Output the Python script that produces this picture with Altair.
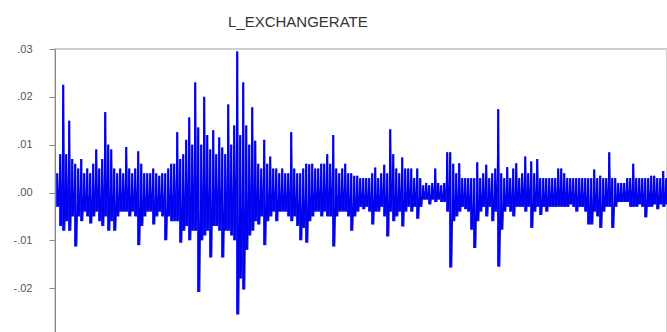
import altair as alt
import pandas as pd

# Daily log-change of the exchange rate, summarised per time slice as the
# highest and lowest value reached inside that slice (units of 0.001).
slice_high = [
    4, 8, 22.5, 8, 15, 7, 6, 5, 7, 4, 5, 4, 6, 9, 5, 7, 16.8, 10, 9, 5,
    4, 5, 4, 9.5, 5, 4, 5, 8.6, 6, 4, 4, 4, 5, 4, 3.5, 4, 4, 5, 6, 6,
    12.6, 7, 8, 11, 15.7, 10, 23, 13.6, 10, 20, 12, 9, 13, 8, 11.5, 9.4, 8, 18.4, 10, 14,
    29.5, 12, 23, 14, 10, 17.8, 10.8, 6, 5, 11, 6, 7.5, 5, 5, 4, 5, 4, 4, 12.6, 5,
    4, 4, 5, 6, 5.9, 6, 5, 5, 6, 6, 8, 6, 12, 5, 4, 5, 6, 4, 4, 3.5,
    3.5, 3, 3, 3, 3, 4, 5.2, 3, 4, 5.8, 4, 13.2, 8, 5, 4, 7.3, 5, 5, 5, 3,
    5, 3, 1.5, 2, 1.5, 2, 5, 2, 1.5, 2, 8.4, 8.4, 6, 4, 6.1, 3, 3, 3, 3, 3,
    6.3, 3, 4, 5.8, 3, 4, 5, 17.4, 4, 3, 5.3, 3, 5, 6.1, 3, 4, 7.5, 4, 6.5, 4,
    7, 3, 3, 3, 3, 3, 3, 5, 5, 4, 3, 3, 3, 3, 3, 3, 3, 3, 3, 4.8,
    3, 3.5, 3, 3, 8.4, 3, 3, 2, 2, 2, 3, 3, 6, 3, 3, 3, 3, 3, 3.5, 3.5,
    3, 3, 4.5, 3,
]
slice_low = [
    -3, -7, -8, -6, -8, -5, -11.3, -5, -6, -4, -5, -6.5, -5, -4, -6, -7, -5, -8, -6, -8,
    -5, -4, -4, -4, -5, -4, -5, -11, -7, -5, -4, -4, -6.7, -5, -4, -5, -10, -5, -6, -6,
    -6, -10.5, -8, -7, -10, -8, -8, -20.8, -10, -9, -8, -13.6, -7, -7, -8, -13.6, -8, -8, -9, -10,
    -25.5, -18, -20.3, -12, -9, -8, -6, -6.7, -5, -11, -6, -5, -4, -6, -4, -4, -4, -5, -6, -5,
    -7, -10, -7.4, -10.5, -6, -5, -4, -4, -5, -4, -5, -5, -11.3, -5, -4, -4, -4, -5, -8, -5,
    -4, -3, -3.5, -3, -4, -6.7, -4, -4, -3, -5, -9.2, -4, -6, -5, -4, -7.1, -4, -3, -4, -3,
    -5.5, -3, -1.5, -1.5, -2.5, -1.5, -2, -1.5, -2, -2, -4, -15.7, -6, -5, -4, -3, -3.5, -4, -7.8, -11.6,
    -6, -4, -3, -5, -3, -6, -4, -15.5, -7.8, -4, -3, -4, -5, -3, -3, -3, -4, -3, -7.4, -4,
    -3, -4.7, -3, -4, -3, -3, -3, -3, -3, -3, -3, -2.5, -3, -4, -3, -3, -4, -6.7, -6.7, -4,
    -5, -7.4, -4, -3, -3, -7.4, -3, -2, -2, -2, -2, -3, -3, -3, -2.5, -3, -5.2, -3, -3, -2.5,
    -3.5, -2.5, -3, -2.5,
]
n_slices = len(slice_high)

# One table: each slice contributes its high then its low, in time order,
# and carries its own extent for the vertical fill.
rows = []
for i, (hi, lo) in enumerate(zip(slice_high, slice_low)):
    rows.append({"t": 2 * i, "v": hi / 1000.0, "high": hi / 1000.0, "low": lo / 1000.0, "first": True})
    rows.append({"t": 2 * i + 1, "v": lo / 1000.0, "high": None, "low": None, "first": False})
df = pd.DataFrame(rows)
n = len(df)

y_ticks = [-0.03, -0.02, -0.01, 0.0, 0.01, 0.02, 0.03]
x_scale = alt.Scale(domain=[-1.5, n - 1.5], nice=False, zero=False)
y_scale = alt.Scale(domain=[-0.03, 0.03], nice=False)
y_axis = alt.Axis(
    values=y_ticks,
    labelExpr="(datum.value < 0 ? '-' : '') + replace(format(abs(datum.value), '.2f'), '0.', '.')",
    title=None,
    grid=False,
    domainColor="#8a8a8a",
    tickColor="#8a8a8a",
    tickSize=6,
    labelPadding=17,
    labelColor="#555555",
    labelFont="Liberation Sans",
    labelFontSize=11,
)
blue = "#0000f0"

base = alt.Chart(df)

line = base.mark_line(color=blue, strokeWidth=1.2, clip=True).encode(
    x=alt.X("t:Q", axis=None, scale=x_scale),
    y=alt.Y("v:Q", scale=y_scale, axis=y_axis, title=None),
)

# Vertical extent of each slice, filling the dense body of the series
spans = (
    base.transform_filter("datum.first")
    .mark_rule(color=blue, strokeWidth=2.2, clip=True)
    .encode(
        x=alt.X("t:Q", axis=None, scale=x_scale),
        y=alt.Y("high:Q", scale=y_scale, axis=y_axis, title=None),
        y2="low:Q",
    )
)

chart = (
    alt.layer(spans, line)
    .properties(
        width=612,
        height=287,
        padding={"left": 55, "top": 49, "right": 0, "bottom": 0},
        autosize="none",
        title=alt.TitleParams(
            "L_EXCHANGERATE",
            anchor="start",
            frame="group",
            dx=173,
            offset=13,
            font="Liberation Sans",
            fontSize=15,
            fontWeight="normal",
            color="#333333",
        ),
    )
    .configure_view(stroke="#cfcfcf", strokeWidth=2)
)

chart.save("out.html", embed_options={"renderer": "svg", "actions": False})
